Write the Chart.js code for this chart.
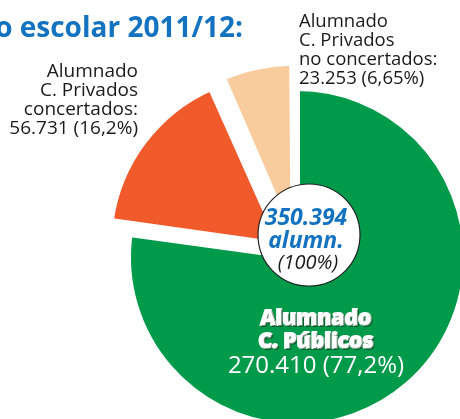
<!DOCTYPE html>
<html>
<head>
<meta charset="utf-8">
<script src="https://cdn.jsdelivr.net/npm/chart.js@4.4.1/dist/chart.umd.min.js"></script>
<style>
  html, body { margin:0; padding:0; background:#fff; overflow:hidden; width:460px; height:419px; }
  #pie { position:absolute; left:0; top:0; }
</style>
</head>
<body>
<canvas id="pie" width="594" height="514"></canvas>
<script>
// --- data (curso escolar 2011/12) ---
const title = 'o escolar 2011/12:'
const categories = ['Alumnado C. Públicos', 'Alumnado C. Privados concertados', 'Alumnado C. Privados no concertados']
const labelLines = [
  ['Alumnado', 'C. Públicos'],
  ['Alumnado', 'C. Privados', 'concertados:'],
  ['Alumnado', 'C. Privados', 'no concertados:']
]
const students = [270410, 56731, 23253]
const shares = ['77,2%', '16,2%', '6,65%']
const totalStudents = 350394
const totalShare = '100%'
const totalUnit = 'alumn.'

const colors = ['#009a4b', '#f15a2b', '#f8cc9d']
const blue = '#1473c0'

// spanish thousands separator
function fmt(n){ return String(n).replace(/\B(?=(\d{3})+(?!\d))/g, '.') }

const labelsPlugin = {
  id:'labels',
  afterDatasetsDraw(chart){
    const ctx = chart.ctx
    ctx.save()

    // title
    ctx.fillStyle = blue
    ctx.font = 'bold 28px "Open Sans"'
    ctx.textAlign = 'right'
    ctx.textBaseline = 'alphabetic'
    ctx.fillText(title, 243, 37)

    // orange label (right aligned, left side)
    ctx.fillStyle = '#1a1a1a'
    ctx.font = '19px "Open Sans"'
    ctx.textAlign = 'right'
    const o = labelLines[1].concat([fmt(students[1]) + ' (' + shares[1] + ')'])
    o.forEach((t,i)=> ctx.fillText(t, 138, 77 + i*19))

    // beige label (left aligned, top right)
    ctx.font = '18.5px "Open Sans"'
    ctx.textAlign = 'left'
    const b = labelLines[2].concat([fmt(students[2]) + ' (' + shares[2] + ')'])
    b.forEach((t,i)=> ctx.fillText(t, 299, 27 + i*19))

    // green label
    ctx.textAlign = 'center'
    ctx.fillStyle = '#fff'
    ctx.strokeStyle = '#fff'
    ctx.lineWidth = 2
    ctx.lineJoin = 'round'
    ctx.font = '800 21px "Open Sans"'
    ctx.shadowColor = 'rgba(0,60,20,0.6)'
    ctx.shadowOffsetX = 1
    ctx.shadowOffsetY = 1
    labelLines[0].forEach((t,i)=>{
      ctx.strokeText(t, 316, 325 + i*23)
      ctx.fillText(t, 316, 325 + i*23)
    })
    ctx.shadowColor = 'transparent'
    ctx.font = '24px "Open Sans"'
    ctx.fillText(fmt(students[0]) + ' (' + shares[0] + ')', 316, 373)

    // centre disc with total
    ctx.beginPath()
    ctx.arc(309, 235, 51, 0, Math.PI*2)
    ctx.fillStyle = '#fff'
    ctx.fill()
    ctx.lineWidth = 1.2
    ctx.strokeStyle = '#222'
    ctx.stroke()

    ctx.fillStyle = blue
    ctx.font = 'italic bold 23px "Open Sans"'
    ctx.fillText(fmt(totalStudents), 306, 225)
    ctx.fillText(totalUnit, 306, 248)
    ctx.fillStyle = '#1a1a1a'
    ctx.font = 'italic 20px "Open Sans"'
    ctx.fillText('(' + totalShare + ')', 308, 269)

    ctx.restore()
  }
}

new Chart(document.getElementById('pie'), {
  type:'pie',
  data:{
    labels: categories,
    datasets:[{
      data: students,
      backgroundColor: colors,
      borderColor:'#fff',
      borderWidth: 6,
      offset:[0, 80, 64]
    }]
  },
  options:{
    responsive:false,
    animation:false,
    events:[],
    radius:169,
    layout:{padding:0},
    plugins:{legend:{display:false}, tooltip:{enabled:false}}
  },
  plugins:[labelsPlugin]
})
</script>
</body>
</html>
